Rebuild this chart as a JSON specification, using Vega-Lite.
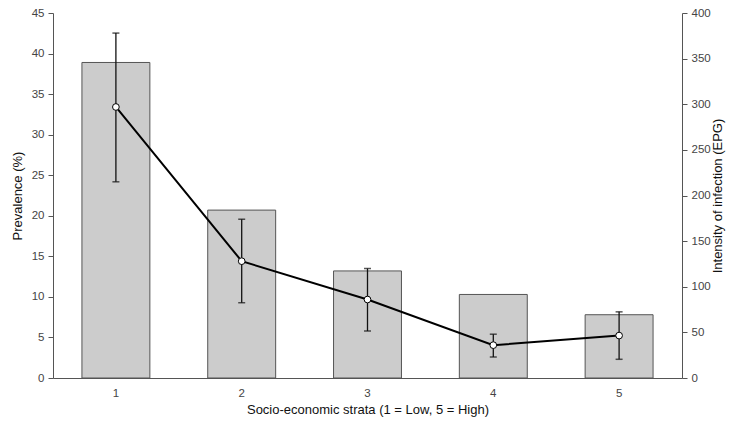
{
  "$schema": "https://vega.github.io/schema/vega-lite/v6.json",
  "width": 629,
  "height": 365,
  "autosize": "none",
  "padding": {"left": 53, "top": 13, "right": 58, "bottom": 51},
  "background": "white",
  "config": {
    "font": "Liberation Sans",
    "view": {"stroke": null},
    "axis": {
      "labelFont": "Liberation Sans",
      "titleFont": "Liberation Sans",
      "labelFontSize": 11.5,
      "titleFontSize": 13,
      "titleFontWeight": "normal",
      "labelColor": "#444444",
      "titleColor": "#111111",
      "domainColor": "#555555",
      "tickColor": "#555555",
      "labelOverlap": false,
      "grid": false
    }
  },
  "data": {
    "values": [
      {"strata": "1", "prev": 38.9, "epg": 297, "lo": 215, "hi": 378},
      {"strata": "2", "prev": 20.7, "epg": 128, "lo": 82.5, "hi": 174},
      {"strata": "3", "prev": 13.2, "epg": 86, "lo": 51.5, "hi": 120},
      {"strata": "4", "prev": 10.3, "epg": 36, "lo": 23, "hi": 48},
      {"strata": "5", "prev": 7.8, "epg": 46.5, "lo": 20.5, "hi": 72.5}
    ]
  },
  "encoding": {
    "x": {
      "field": "strata",
      "type": "ordinal",
      "scale": {"paddingInner": 0.46, "paddingOuter": 0.23},
      "axis": {
        "title": "Socio-economic strata (1 = Low, 5 = High)",
        "labelAngle": 0,
        "ticks": false,
        "labelPadding": 9,
        "titlePadding": 5
      }
    }
  },
  "layer": [
    {
      "mark": {"type": "bar", "fill": "#cccccc", "stroke": "#555555", "strokeWidth": 1},
      "encoding": {
        "y": {
          "field": "prev",
          "type": "quantitative",
          "scale": {"domain": [0, 45], "nice": false},
          "axis": {"title": "Prevalence (%)", "values": [0,5,10,15,20,25,30,35,40,45], "tickSize": 5, "labelPadding": 4, "titlePadding": 7}
        }
      }
    },
    {
      "layer": [
        {
          "mark": {"type": "rule", "color": "#111111", "strokeWidth": 1.3},
          "encoding": {
            "y": {
              "field": "lo",
              "type": "quantitative",
              "scale": {"domain": [0, 400], "nice": false},
              "axis": {"orient": "right", "title": "Intensity of infection (EPG)", "values": [0,50,100,150,200,250,300,350,400], "tickSize": 5, "labelPadding": 4, "titleAngle": -90, "titlePadding": 14}
            },
            "y2": {"field": "hi"}
          }
        },
        {
          "mark": {"type": "tick", "color": "#111111", "size": 7, "thickness": 1.5},
          "encoding": {"y": {"field": "lo", "type": "quantitative"}}
        },
        {
          "mark": {"type": "tick", "color": "#111111", "size": 7, "thickness": 1.5},
          "encoding": {"y": {"field": "hi", "type": "quantitative"}}
        },
        {
          "mark": {"type": "line", "color": "#000000", "strokeWidth": 2},
          "encoding": {"y": {"field": "epg", "type": "quantitative"}}
        },
        {
          "mark": {"type": "point", "filled": true, "fill": "white", "stroke": "#000000", "strokeWidth": 1, "size": 45, "opacity": 1},
          "encoding": {"y": {"field": "epg", "type": "quantitative"}}
        }
      ]
    }
  ],
  "resolve": {"scale": {"y": "independent"}}
}
